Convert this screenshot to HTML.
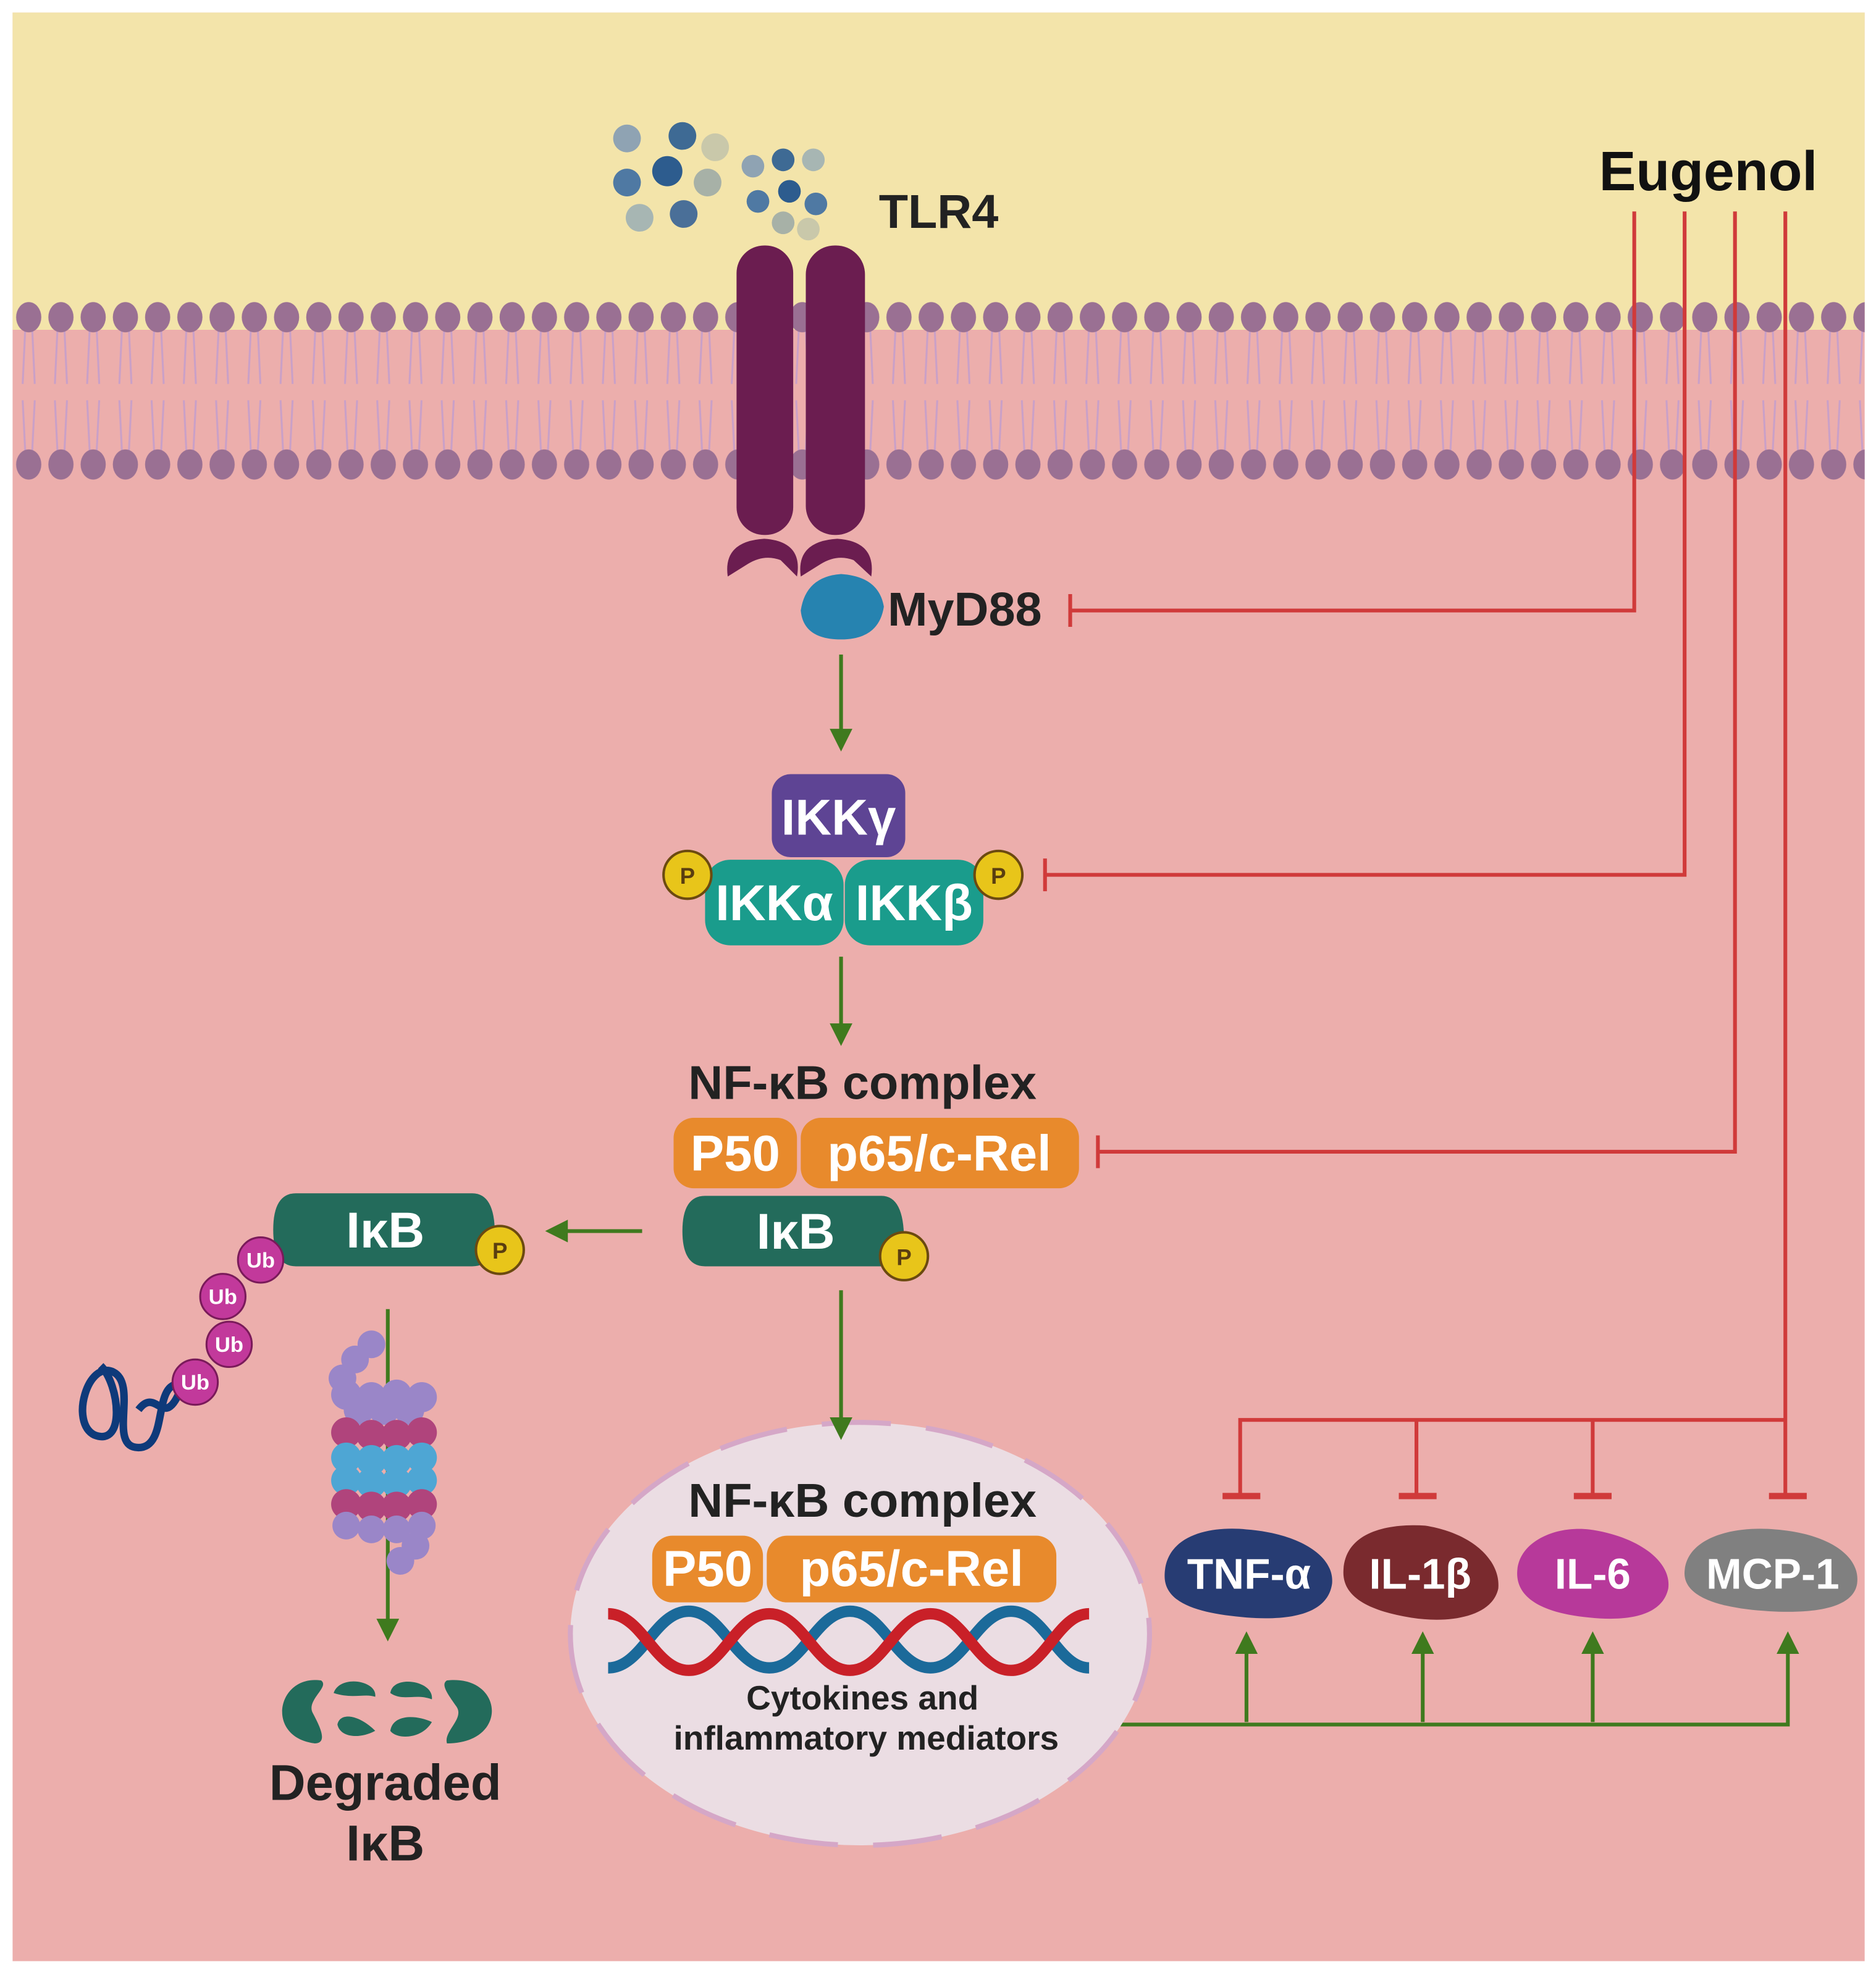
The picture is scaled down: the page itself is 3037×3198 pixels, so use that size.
<!DOCTYPE html>
<html><head><meta charset="utf-8"><style>html,body{margin:0;padding:0;background:#fff}svg{display:block}text{font-family:"Liberation Sans",sans-serif;font-weight:bold}</style></head>
<body>
<svg width="3037" height="3198" viewBox="0 0 1490 1569" xmlns="http://www.w3.org/2000/svg">
<defs>
<pattern id="mem" x="10" y="0" width="25.6" height="400" patternUnits="userSpaceOnUse">
<g stroke="#c9a0c8" stroke-width="1.5" fill="none">
<line x1="10" y1="262" x2="8" y2="305"/><line x1="15.6" y1="262" x2="17.6" y2="305"/>
<line x1="8" y1="318" x2="10" y2="358"/><line x1="17.6" y1="318" x2="15.6" y2="358"/>
</g>
<ellipse cx="12.8" cy="252" rx="10" ry="12" fill="#9a7093"/>
<ellipse cx="12.8" cy="369" rx="10" ry="12" fill="#9a7093"/>
</pattern>
<marker id="ga" markerWidth="6" markerHeight="6" refX="3" refY="3" orient="auto" markerUnits="strokeWidth"><path d="M0,0 L6,3 L0,6 z" fill="#3f7a1e"/></marker>
</defs>
<rect x="10" y="10" width="1471" height="1548" fill="#ecaeac"/>
<rect x="10" y="10" width="1471" height="252" fill="#f3e4aa"/>
<rect x="10" y="230" width="1471" height="160" fill="url(#mem)"/>
<g>
<circle cx="498" cy="110" r="11" fill="#8fa3b3"/><circle cx="542" cy="108" r="11" fill="#3e6a94"/><circle cx="568" cy="117" r="11" fill="#c9c8aa"/>
<circle cx="530" cy="136" r="12" fill="#2d5c8e"/><circle cx="498" cy="145" r="11" fill="#4f79a3"/><circle cx="562" cy="145" r="11" fill="#a7b1a7"/>
<circle cx="508" cy="173" r="11" fill="#a7b6b3"/><circle cx="543" cy="170" r="11" fill="#4a6f98"/>
<circle cx="598" cy="132" r="9" fill="#8fa3b3"/><circle cx="622" cy="127" r="9" fill="#3e6a94"/><circle cx="646" cy="127" r="9" fill="#a7b6b3"/>
<circle cx="602" cy="160" r="9" fill="#4f79a3"/><circle cx="627" cy="152" r="9" fill="#2d5c8e"/><circle cx="648" cy="162" r="9" fill="#4f79a3"/>
<circle cx="622" cy="177" r="9" fill="#a7b1a7"/><circle cx="642" cy="182" r="9" fill="#c9c8aa"/>
</g>
<text x="698" y="181" font-size="38" fill="#222">TLR4</text>
<g fill="#6b1d50">
<rect x="585" y="195" width="45" height="230" rx="22"/><rect x="640" y="195" width="47" height="230" rx="23"/>
<path d="M578,458 Q574,430 607,428 Q638,430 633,458 L620,445 Q607,440 594,448 Z"/>
<path d="M636,458 Q632,430 665,428 Q696,430 692,458 L678,445 Q665,440 652,448 Z"/>
</g>
<path d="M636,485 Q640,458 668,456 Q698,458 702,482 Q698,508 668,508 Q638,508 636,485 Z" fill="#2683b0"/>
<text x="705" y="497" font-size="38" fill="#222">MyD88</text>
<text x="1270" y="151" font-size="44" fill="#111">Eugenol</text>
<g stroke="#d03a3a" stroke-width="3" fill="none">
<polyline points="1298,168 1298,485 850,485"/><line x1="850" y1="472" x2="850" y2="498"/>
<polyline points="1338,168 1338,695 830,695"/><line x1="830" y1="682" x2="830" y2="708"/>
<polyline points="1378,168 1378,915 872,915"/><line x1="872" y1="902" x2="872" y2="928"/>
<line x1="1418" y1="168" x2="1418" y2="1188"/>
<polyline points="985,1188 985,1128 1418,1128"/>
<line x1="1125" y1="1128" x2="1125" y2="1188"/><line x1="1265" y1="1128" x2="1265" y2="1188"/>
</g>
<g fill="#d03a3a"><rect x="971" y="1186" width="30" height="5"/><rect x="1111" y="1186" width="30" height="5"/><rect x="1250" y="1186" width="30" height="5"/><rect x="1405" y="1186" width="30" height="5"/></g>
<g stroke="#3f7a1e" stroke-width="3" fill="none" marker-end="url(#ga)">
<line x1="668" y1="520" x2="668" y2="588"/>
<line x1="668" y1="760" x2="668" y2="822"/>
<line x1="510" y1="978" x2="442" y2="978"/>
<line x1="308" y1="1040" x2="308" y2="1295"/>
<line x1="990" y1="1368" x2="990" y2="1305"/>
<line x1="1130" y1="1368" x2="1130" y2="1305"/>
<line x1="1265" y1="1368" x2="1265" y2="1305"/>
</g>
<polyline points="880,1370 1420,1370 1420,1305" stroke="#3f7a1e" stroke-width="3" fill="none" marker-end="url(#ga)"/>
<rect x="613" y="615" width="106" height="66" rx="15" fill="#5e4494"/>
<text x="666" y="663" font-size="40" fill="#fff" text-anchor="middle">IKKγ</text>
<rect x="560" y="683" width="110" height="68" rx="20" fill="#1a9c8c"/>
<rect x="671" y="683" width="110" height="68" rx="20" fill="#1a9c8c"/>
<text x="615" y="731" font-size="40" fill="#fff" text-anchor="middle">IKKα</text>
<text x="726" y="731" font-size="40" fill="#fff" text-anchor="middle">IKKβ</text>
<text x="685" y="873" font-size="38" fill="#222" text-anchor="middle">NF-κB complex</text>
<rect x="535" y="888" width="98" height="56" rx="16" fill="#e88a2c"/>
<rect x="636" y="888" width="221" height="56" rx="16" fill="#e88a2c"/>
<text x="584" y="930" font-size="40" fill="#fff" text-anchor="middle">P50</text>
<text x="746" y="930" font-size="40" fill="#fff" text-anchor="middle">p65/c-Rel</text>
<path d="M560,950 H700 Q718,950 718,985 Q718,1006 700,1006 H560 Q542,1006 542,978 Q542,950 560,950 Z" fill="#236b5b"/>
<text x="632" y="992" font-size="40" fill="#fff" text-anchor="middle">IκB</text>
<path d="M235,948 H375 Q393,948 393,980 Q393,1006 375,1006 H235 Q217,1006 217,977 Q217,948 235,948 Z" fill="#236b5b"/>
<text x="306" y="991" font-size="40" fill="#fff" text-anchor="middle">IκB</text>
<g fill="#e8c51a" stroke="#6b4a10" stroke-width="2"><circle cx="546" cy="695" r="19"/><circle cx="793" cy="695" r="19"/><circle cx="718" cy="998" r="19"/><circle cx="397" cy="993" r="19"/></g>
<g font-size="18" fill="#5a3e10" text-anchor="middle"><text x="546" y="702">P</text><text x="793" y="702">P</text><text x="718" y="1005">P</text><text x="397" y="1000">P</text></g>
<path d="M145,1100 C120,1095 135,1150 110,1150 C85,1150 110,1100 90,1090 C70,1080 55,1130 75,1140 C100,1150 95,1100 80,1085 M110,1120 C125,1100 130,1140 145,1100" stroke="#0e3a7a" stroke-width="6" fill="none"/>
<g fill="#c2399b" stroke="#7a1a5a" stroke-width="1.5"><circle cx="207" cy="1001" r="18"/><circle cx="177" cy="1030" r="18"/><circle cx="182" cy="1068" r="18"/><circle cx="155" cy="1098" r="18"/></g>
<g font-size="17" fill="#fff" text-anchor="middle"><text x="207" y="1007">Ub</text><text x="177" y="1036">Ub</text><text x="182" y="1074">Ub</text><text x="155" y="1104">Ub</text></g>
<g>
<g fill="#9a86c8"><circle cx="295" cy="1068" r="11"/><circle cx="282" cy="1080" r="11"/><circle cx="272" cy="1095" r="11"/></g>
<g fill="#9a86c8"><circle cx="275" cy="1108" r="12"/><circle cx="295" cy="1110" r="12"/><circle cx="315" cy="1108" r="12"/><circle cx="335" cy="1110" r="12"/><circle cx="285" cy="1120" r="12"/><circle cx="305" cy="1120" r="12"/><circle cx="325" cy="1120" r="12"/></g>
<g fill="#b0447c"><circle cx="275" cy="1138" r="12"/><circle cx="295" cy="1140" r="12"/><circle cx="315" cy="1140" r="12"/><circle cx="335" cy="1138" r="12"/></g>
<g fill="#4ea6d4"><circle cx="275" cy="1158" r="12"/><circle cx="295" cy="1160" r="12"/><circle cx="315" cy="1160" r="12"/><circle cx="335" cy="1158" r="12"/><circle cx="275" cy="1176" r="12"/><circle cx="295" cy="1178" r="12"/><circle cx="315" cy="1178" r="12"/><circle cx="335" cy="1176" r="12"/></g>
<g fill="#b0447c"><circle cx="275" cy="1195" r="12"/><circle cx="295" cy="1197" r="12"/><circle cx="315" cy="1197" r="12"/><circle cx="335" cy="1195" r="12"/></g>
<g fill="#9a86c8"><circle cx="275" cy="1212" r="11"/><circle cx="295" cy="1215" r="11"/><circle cx="315" cy="1215" r="11"/><circle cx="335" cy="1212" r="11"/><circle cx="330" cy="1228" r="11"/><circle cx="318" cy="1240" r="11"/></g>
</g>
<g fill="#236b5b">
<path d="M255,1335 C220,1330 210,1380 250,1385 C262,1385 252,1368 248,1360 C244,1350 262,1340 255,1335 Z"/>
<path d="M265,1345 C270,1330 300,1335 298,1348 C290,1345 280,1350 265,1345 Z M268,1370 C270,1360 285,1362 298,1375 C285,1382 270,1380 268,1370 Z"/>
<path d="M310,1345 C312,1330 345,1335 343,1350 C330,1345 320,1352 310,1345 Z M310,1375 C312,1362 330,1362 343,1368 C335,1382 315,1382 310,1375 Z"/>
<path d="M355,1335 C400,1330 405,1385 355,1385 C352,1375 370,1365 362,1355 C355,1345 350,1338 355,1335 Z"/>
</g>
<text x="306" y="1430" font-size="40" fill="#222" text-anchor="middle">Degraded</text>
<text x="306" y="1478" font-size="40" fill="#222" text-anchor="middle">IκB</text>
<ellipse cx="683" cy="1298" rx="230" ry="168" fill="#ebdde3" stroke="#d5a7c7" stroke-width="4" stroke-dasharray="55 28"/>
<line x1="668" y1="1025" x2="668" y2="1135" stroke="#3f7a1e" stroke-width="3" marker-end="url(#ga)"/>
<text x="685" y="1205" font-size="38" fill="#222" text-anchor="middle">NF-κB complex</text>
<rect x="518" y="1220" width="88" height="53" rx="16" fill="#e88a2c"/>
<rect x="609" y="1220" width="230" height="53" rx="16" fill="#e88a2c"/>
<text x="562" y="1260" font-size="40" fill="#fff" text-anchor="middle">P50</text>
<text x="724" y="1260" font-size="40" fill="#fff" text-anchor="middle">p65/c-Rel</text>
<path d="M483,1325 C510,1325 520,1280 547,1280 C574,1280 584,1325 611,1325 C638,1325 648,1280 675,1280 C702,1280 712,1325 739,1325 C766,1325 776,1280 803,1280 C830,1280 840,1325 865,1325" stroke="#1b6a9a" stroke-width="9" fill="none"/>
<path d="M483,1282 C510,1282 520,1327 547,1327 C574,1327 584,1282 611,1282 C638,1282 648,1327 675,1327 C702,1327 712,1282 739,1282 C766,1282 776,1327 803,1327 C830,1327 840,1282 865,1282" stroke="#c92028" stroke-width="9" fill="none"/>
<text x="685" y="1358" font-size="27" fill="#222" text-anchor="middle">Cytokines and</text>
<text x="688" y="1390" font-size="27" fill="#222" text-anchor="middle">inflammatory mediators</text>
<path d="M925,1252 C925,1220 960,1212 990,1215 C1030,1218 1060,1235 1058,1258 C1055,1280 1030,1288 990,1285 C955,1282 925,1275 925,1252 Z" fill="#273c73"/>
<path d="M1067,1248 C1068,1218 1100,1210 1132,1212 C1170,1218 1192,1240 1190,1262 C1185,1285 1150,1290 1120,1285 C1090,1280 1066,1270 1067,1248 Z" fill="#7a2a2e"/>
<path d="M1205,1250 C1205,1225 1235,1212 1262,1215 C1300,1220 1328,1240 1325,1262 C1320,1285 1290,1288 1262,1285 C1230,1282 1205,1272 1205,1250 Z" fill="#b7399a"/>
<path d="M1338,1248 C1340,1222 1375,1212 1410,1215 C1450,1218 1478,1235 1475,1258 C1472,1278 1440,1282 1405,1280 C1370,1278 1336,1270 1338,1248 Z" fill="#808080"/>
<g font-size="34" fill="#fff" text-anchor="middle"><text x="992" y="1262">TNF-α</text><text x="1128" y="1262">IL-1β</text><text x="1265" y="1262">IL-6</text><text x="1408" y="1262">MCP-1</text></g>
</svg>
</body></html>
